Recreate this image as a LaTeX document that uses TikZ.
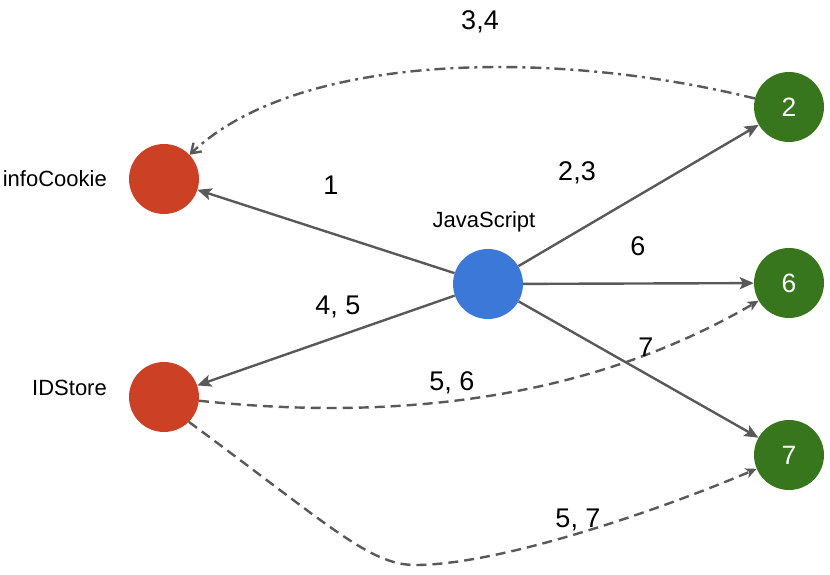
\documentclass[tikz,border=0pt]{standalone}
\usepackage{fontspec}
\setmainfont{Liberation Sans}
\usetikzlibrary{arrows.meta}
\definecolor{cred}{HTML}{CC4125}
\definecolor{cblue}{HTML}{3C78D8}
\definecolor{cgreen}{HTML}{38761D}
\definecolor{cline}{HTML}{595959}
\tikzset{
  dot/.style={circle, minimum size=70pt, inner sep=0pt, fill=#1, draw=none},
  numtxt/.style={text=white, font=\fontsize{26.5}{30}\selectfont},
  nametxt/.style={font=\fontsize{22}{25}\selectfont, inner sep=0pt},
  edgetxt/.style={font=\fontsize{27}{31}\selectfont, inner sep=0pt},
  conn/.style={draw=cline, line width=2.4pt, -{Stealth[length=14pt,width=12pt,inset=3pt]}},
  dconn/.style={conn, -{Stealth[length=11pt,width=10pt,inset=3pt]}, dash pattern=on 10pt off 6pt},
  ddconn/.style={conn, -{Straight Barb[length=9pt,width=12pt]}, dash pattern=on 11pt off 5pt on 3pt off 5pt},
}
\begin{document}
\begin{tikzpicture}[x=1pt,y=-1pt]
\useasboundingbox (0,0) rectangle (830,575);
\node[dot=cred] (info) at (164,179) {};
\node[dot=cred] (ids) at (164,397) {};
\node[dot=cblue] (js) at (488,284) {};
\node[dot=cgreen, numtxt] (n2) at (789,107) {2};
\node[dot=cgreen, numtxt] (n6) at (789,283) {6};
\node[dot=cgreen, numtxt] (n7) at (789,455) {7};

\node[nametxt, anchor=east] (linfo) at (107,179) {infoCookie};
\node[nametxt, anchor=east] (lids) at (107,388) {IDStore};
\node[nametxt] (ljs) at (484,222) {JavaScript};

\draw[conn] (js) -- (info);
\draw[conn] (js) -- (ids);
\draw[conn] (js) -- (n2);
\draw[conn] (js) -- (n6);
\draw[conn] (js) -- (n7);
\draw[ddconn] (n2) .. controls (560,50) and (300,50) .. (info);
\draw[dconn] (ids) .. controls (380,420) and (580,405) .. (n6);
\draw[dconn] (ids.-45) .. controls (330,526) and (370,565) .. (415,565) .. controls (500,565) and (660,510) .. (n7);

\node[edgetxt] (e1) at (331,185) {1};
\node[edgetxt] (e23) at (577,173) {2,3};
\node[edgetxt] (e6) at (638,246) {6};
\node[edgetxt] (e7) at (646,347) {7};
\node[edgetxt] (e45) at (338,307) {4, 5};
\node[edgetxt] (e34) at (480,22) {3,4};
\node[edgetxt] (e56) at (452,383) {5, 6};
\node[edgetxt] (e57) at (578,520) {5, 7};
\end{tikzpicture}
\end{document}
